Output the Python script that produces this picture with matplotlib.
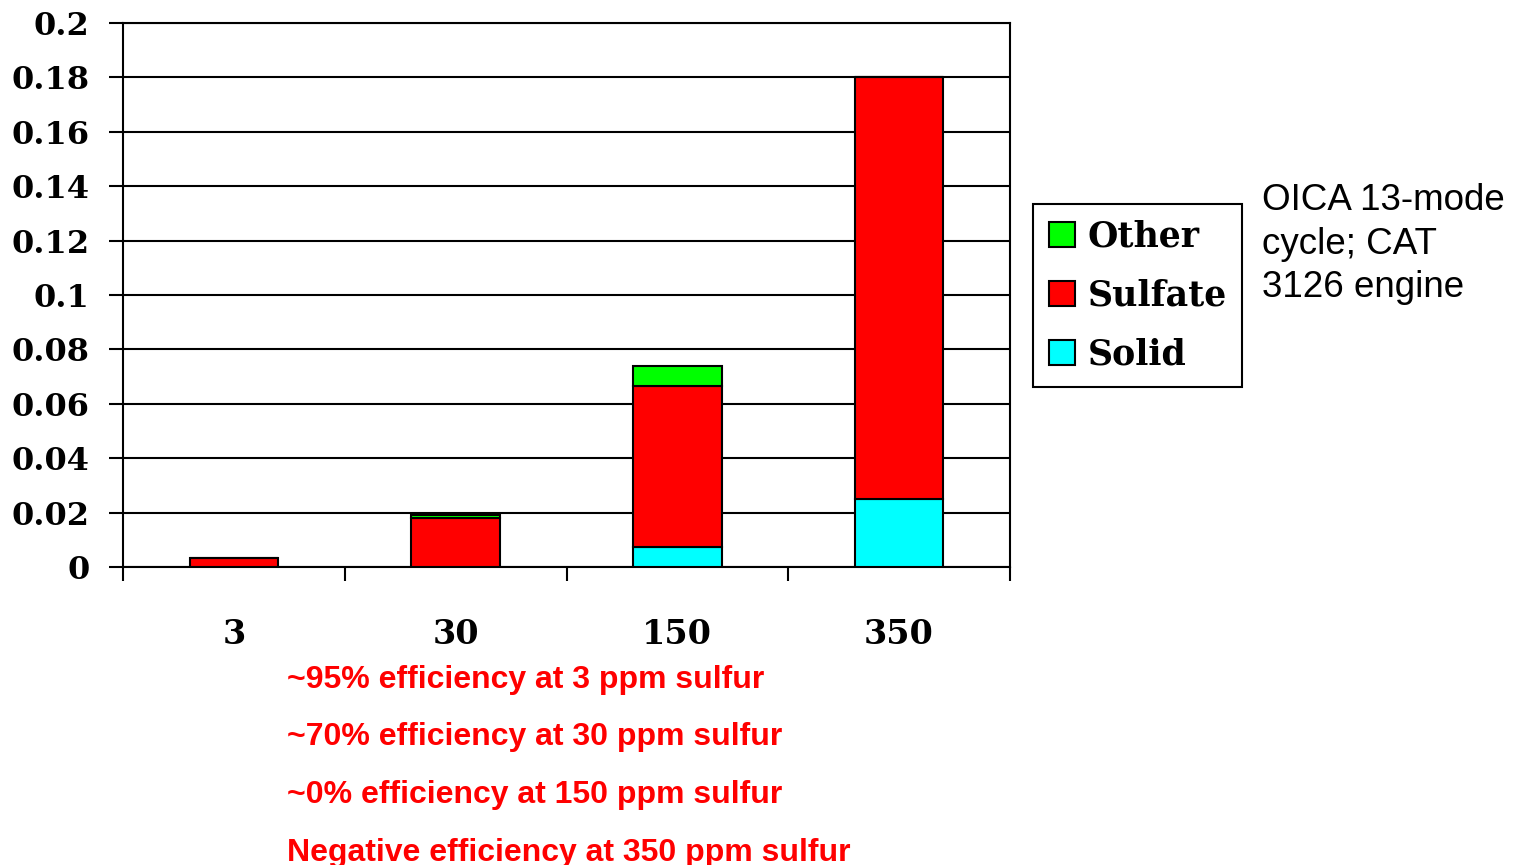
import matplotlib.pyplot as plt
import numpy as np

# sulfur level (ppm) and particulate mass by fraction
sulfur = ['3', '30', '150', '350']
solid = [0.0, 0.0, 0.0074, 0.025]
sulfate = [0.0033, 0.018, 0.0591, 0.155]
other = [0.0, 0.001, 0.0074, 0.0]

notes = ['~95% efficiency at 3 ppm sulfur',
         '~70% efficiency at 30 ppm sulfur',
         '~0% efficiency at 150 ppm sulfur',
         'Negative efficiency at 350 ppm sulfur']

serif = ['DejaVu Serif']

fig = plt.figure(figsize=(15.13, 8.65), dpi=100)
ax = fig.add_axes([123/1513, 1-567/865, (1010-123)/1513, (567-23)/865])

x = np.arange(len(sulfur))
w = 0.4
ax.bar(x, solid, w, color='#00ffff', edgecolor='black', lw=1.5, label='Solid', zorder=3)
ax.bar(x, sulfate, w, bottom=solid, color='#ff0000', edgecolor='black', lw=1.5,
       label='Sulfate', zorder=3)
bottom2 = np.array(solid) + np.array(sulfate)
ax.bar(x, other, w, bottom=bottom2, color='#00ff00', edgecolor='black', lw=1.5,
       label='Other', zorder=3)

ax.set_xlim(-0.5, 3.5)
ax.set_ylim(0, 0.2)
ax.set_yticks(np.arange(0, 0.201, 0.02))
ax.set_yticklabels(['0', '0.02', '0.04', '0.06', '0.08', '0.1', '0.12', '0.14',
                    '0.16', '0.18', '0.2'], fontsize=23, fontweight='bold', family=serif)
ax.yaxis.grid(True, color='black', lw=1.5, zorder=0)
ax.tick_params(axis='y', length=10, width=1.5, pad=14)

ax.set_xticks(x)
ax.set_xticklabels(sulfur, fontsize=24, fontweight='bold', family=serif)
ax.set_xticks(np.arange(-0.5, 3.6, 1), minor=True)
ax.tick_params(axis='x', which='major', length=0, pad=37)
ax.tick_params(axis='x', which='minor', length=10, width=1.5)

for s in ax.spines.values():
    s.set_linewidth(1.5)

h, l = ax.get_legend_handles_labels()
leg = fig.legend(h[::-1], l[::-1], loc='upper left', bbox_to_anchor=(1033/1513, 1-204/865),
                 prop={'family': serif, 'weight': 'bold', 'size': 25}, frameon=True,
                 fancybox=False, edgecolor='black', framealpha=1, borderaxespad=0,
                 handlelength=0.75, handleheight=0.75, handletextpad=0.37,
                 labelspacing=0.72, borderpad=0.45)
leg.get_frame().set_linewidth(1.5)

fig.text(1262/1513, 1-244/865, 'OICA 13-mode\ncycle; CAT\n3126 engine', fontsize=26.5,
         family='Liberation Sans', va='center', ha='left', linespacing=1.32)

for i, t in enumerate(notes):
    fig.text(287/1513, 1-(680 + 57.5*i)/865, t, color='#ff0000', fontsize=23,
             fontweight='bold', family='Liberation Sans', va='center', ha='left')

plt.savefig('out.png', dpi=100)
